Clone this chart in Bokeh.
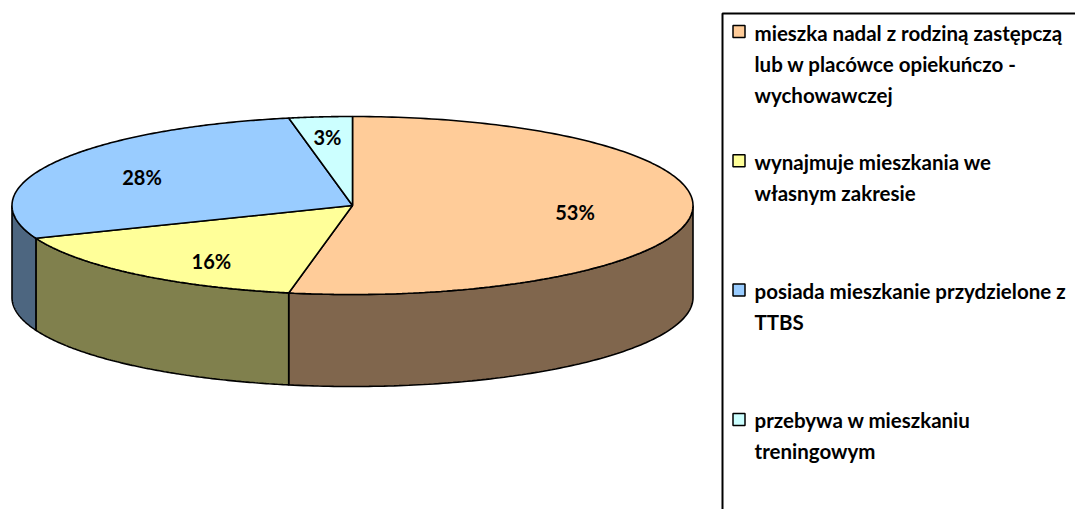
import numpy as np
from bokeh.plotting import figure
from bokeh.models import Range1d
from bokeh.embed import file_html
from bokeh.resources import INLINE
from bokeh.core.properties import value

# ---- data ----
categories = [
    "mieszka nadal z rodziną zastępczą\nlub w placówce opiekuńczo -\nwychowawczej",
    "wynajmuje mieszkania we\nwłasnym zakresie",
    "posiada mieszkanie przydzielone z\nTTBS",
    "przebywa w mieszkaniu\ntreningowym",
]
shares = [53, 16, 28, 3]
pct_labels = ["53%", "16%", "28%", "3%"]
top_colors = ["#FFCC99", "#FFFF99", "#99CCFF", "#CCFFFF"]
side_colors = ["#80664D", "#80804D", "#4D6680", "#668080"]

# ---- geometry / style (not data) ----
W, H = 1075, 509
CX, CY, RX, RY, DEPTH = 352.0, 205.0, 340.5, 89.0, 92.0
LABEL_F = 0.655
label_nudge = [(0.5, 1.5), (1, 11), (-15, 0), (-4, -10)]
FONT = "Lato"

p = figure(width=W, height=H, output_backend="svg", toolbar_location=None,
           x_range=Range1d(0, W), y_range=Range1d(H, 0),
           min_border=0, outline_line_color=None)
p.axis.visible = False
p.grid.visible = False
p.background_fill_color = "white"
p.border_fill_color = "white"


def pt(theta_deg, r=1.0, dz=0.0):
    t = np.radians(theta_deg)
    return CX + r * RX * np.sin(t), CY - r * RY * np.cos(t) + dz


total = float(sum(shares))
angles = np.concatenate([[0.0], np.cumsum(shares) / total * 360.0])

# side walls (front half: 90..270 deg)
for i in range(len(shares)):
    s = max(angles[i], 90.0)
    e = min(angles[i + 1], 270.0)
    if e <= s:
        continue
    th = np.linspace(s, e, 120)
    tx, ty = pt(th)
    bx, by = pt(th[::-1], dz=DEPTH)
    p.patch(list(tx) + list(bx), list(ty) + list(by),
            fill_color=side_colors[i], line_color="black", line_width=1.6)

# top faces
for i in range(len(shares)):
    th = np.linspace(angles[i], angles[i + 1], 200)
    tx, ty = pt(th)
    xs = [CX] + list(tx) + [CX]
    ys = [CY] + list(ty) + [CY]
    p.patch(xs, ys, fill_color=top_colors[i], line_color="black", line_width=1.6)

# percentage labels
for i in range(len(shares)):
    mid = (angles[i] + angles[i + 1]) / 2
    lx, ly = pt(mid, r=LABEL_F)
    p.text(x=[lx + label_nudge[i][0]], y=[ly + label_nudge[i][1]], text=[pct_labels[i]],
           text_font=value(FONT), text_font_style="bold", text_font_size="20px",
           text_align="center", text_baseline="middle", text_color="black")

# legend box
p.line([722, 722, 1100], [530, 13, 13], line_color="black", line_width=2)

entry_y0, entry_step, line_step = 31.0, 129.3, 31.0
for i, cat in enumerate(categories):
    y0 = entry_y0 + i * entry_step
    p.scatter(x=[738.5], y=[y0], marker="square", size=12,
              fill_color=top_colors[i], line_color="black", line_width=1.5)
    for j, line in enumerate(cat.split("\n")):
        p.text(x=[754], y=[y0 + j * line_step + 1], text=[line],
               text_font=value(FONT), text_font_style="bold", text_font_size="20.5px",
               text_align="left", text_baseline="middle", text_color="black")

open("out.html", "w").write(file_html(p, INLINE))
